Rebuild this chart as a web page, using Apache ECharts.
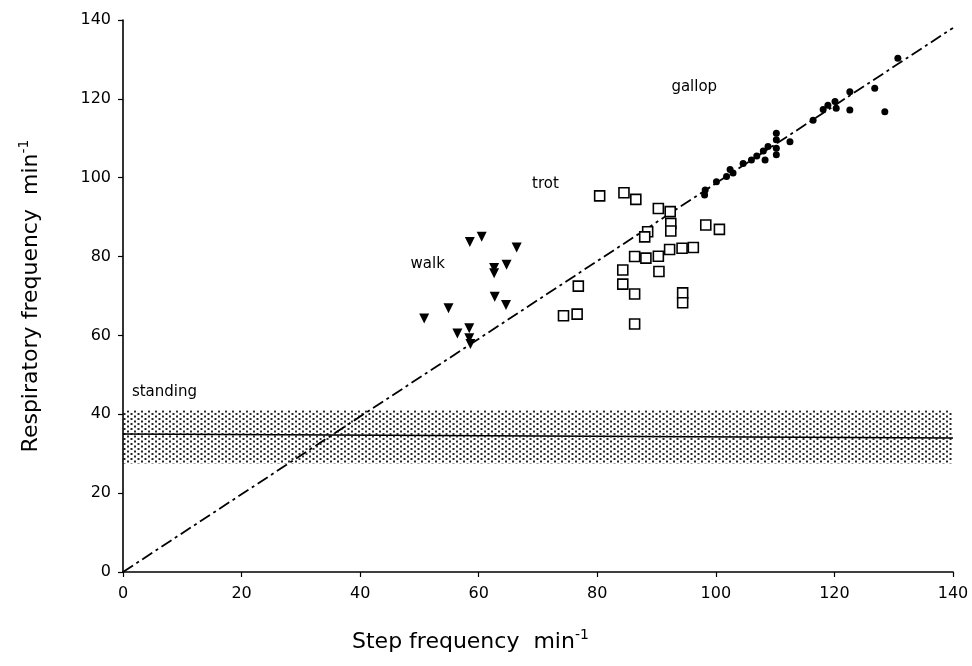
<!DOCTYPE html>
<html><head><meta charset="utf-8">
<script src="https://cdn.jsdelivr.net/npm/echarts@6/dist/echarts.min.js"></script>
<style>html,body{margin:0;padding:0;background:#fff}#c{width:972px;height:666px}</style>
</head><body><div id="c"></div>
<script>
// ---- data ----
var xTicks = [0, 20, 40, 60, 80, 100, 120, 140];
var yTicks = [0, 20, 40, 60, 80, 100, 120, 140];
var walk = [[58.5,83.7],[60.5,85],[66.4,82.3],[62.6,77.1],[62.6,75.8],[64.7,77.9],[62.7,69.8],[64.6,67.7],[54.9,66.9],[50.8,64.3],[56.4,60.5],[58.4,61.8],[58.4,59.3],[58.6,57.8]];
var trot = [[80.4,95.4],[84.5,96.2],[86.5,94.5],[90.3,92.2],[92.3,91.4],[92.4,88.4],[92.4,86.5],[88.5,86.3],[88.0,85.0],[98.3,88.0],[100.6,86.9],[92.2,81.8],[94.3,82.1],[96.2,82.3],[90.3,80.1],[86.3,80.0],[88.2,79.6],[84.3,76.6],[90.4,76.2],[84.3,73.0],[86.3,70.5],[94.4,70.8],[94.4,68.3],[76.8,72.5],[74.3,65.0],[76.6,65.4],[86.3,62.9]];
var gallop = [[98.1,95.6],[98.2,96.9],[100.1,99.0],[101.8,100.3],[102.9,101.2],[102.4,102.1],[104.6,103.6],[106.0,104.5],[106.9,105.5],[108.3,104.5],[108.0,106.8],[108.8,107.9],[110.2,111.3],[110.2,109.6],[110.2,107.5],[110.2,105.8],[112.5,109.1],[116.4,114.6],[118.1,117.3],[118.9,118.4],[120.1,119.3],[120.3,117.6],[122.6,117.2],[122.6,121.8],[126.8,122.7],[128.5,116.7],[130.7,130.3]];
var identityLine = [[0,0],[140,138]];
var standingMean = [[0,35],[140,34]];
var standingBand = [27.5, 41];
var labels = [{name:'gallop', x:92.5, y:123}, {name:'trot', x:69, y:98.5}, {name:'walk', x:48.5, y:78}, {name:'standing', x:1.5, y:45.5}];

// stipple pattern for the standing band
var pc = document.createElement('canvas');
pc.width = 7; pc.height = 5;
var pctx = pc.getContext('2d');
pctx.fillStyle = '#000';
pctx.fillRect(1,0.5,2,2);
pctx.fillRect(4.5,3,2,2);

var font = 'DejaVu Sans';
var chart = echarts.init(document.getElementById('c'));
chart.setOption({
  animation: false,
  backgroundColor: '#fff',
  grid: {left: 123, right: 19, top: 20, bottom: 94},
  xAxis: {
    type: 'value', min: 0, max: 140, interval: 20,
    axisLine: {lineStyle: {color: '#000', width: 1.6}},
    axisTick: {show: true, length: 5, inside: false, lineStyle: {color: '#000', width: 1.2}},
    splitLine: {show: false},
    axisLabel: {color: '#000', fontSize: 16, fontFamily: font, margin: 14,
      formatter: function(v){ return xTicks.indexOf(v) >= 0 ? String(v) : ''; }}
  },
  yAxis: {
    type: 'value', min: 0, max: 140, interval: 20,
    name: 'Respiratory frequency  min{sup|-1}',
    nameLocation: 'middle', nameGap: 78, nameRotate: 90,
    nameTextStyle: {color: '#000', fontSize: 22, fontFamily: font,
      rich: {sup: {fontSize: 14, fontFamily: font, color: '#000', padding: [0,0,14,0]}}},
    axisLine: {lineStyle: {color: '#000', width: 1.6}},
    axisTick: {show: true, length: 5, lineStyle: {color: '#000', width: 1.2}},
    splitLine: {show: false},
    axisLabel: {color: '#000', fontSize: 16, fontFamily: font, margin: 12,
      formatter: function(v){ return yTicks.indexOf(v) >= 0 ? String(v) : ''; }}
  },
  graphic: [{
    type: 'text', left: 352, top: 628,
    style: {text: 'Step frequency  min{sup|-1}', fill: '#000', font: '22px "DejaVu Sans"',
      rich: {sup: {fontSize: 14, fontFamily: font, fill: '#000', padding: [0,0,14,0]}}}
  }],
  series: [
    {type: 'line', data: standingMean, symbol: 'none', silent: true,
      lineStyle: {color: '#000', width: 1.6}, z: 3,
      markArea: {silent: true, itemStyle: {color: {image: pc, repeat: 'repeat'}, opacity: 0.85},
        data: [[{yAxis: standingBand[0]}, {yAxis: standingBand[1]}]]}},
    {type: 'line', data: identityLine, symbol: 'none', silent: true,
      lineStyle: {color: '#000', width: 1.8, type: [12,4,3,4]}, z: 4},
    {type: 'scatter', name: 'walk', data: walk, symbol: 'triangle', symbolRotate: 180, symbolSize: 10,
      itemStyle: {color: '#000', opacity: 1}, z: 5},
    {type: 'scatter', name: 'trot', data: trot, symbol: 'rect', symbolSize: 10,
      itemStyle: {color: '#fff', borderColor: '#000', borderWidth: 1.6, opacity: 1}, z: 5},
    {type: 'scatter', name: 'gallop', data: gallop, symbol: 'circle', symbolSize: 7,
      itemStyle: {color: '#000', opacity: 1}, z: 6},
    {type: 'scatter', data: labels.map(function(l){ return {value: [l.x, l.y], name: l.name}; }),
      symbolSize: 0, silent: true, z: 7, itemStyle: {opacity: 1},
      label: {show: true, position: 'right', distance: 0, formatter: '{b}', color: '#000',
        opacity: 1, fontSize: 15, fontFamily: font}}
  ]
});
</script></body></html>
